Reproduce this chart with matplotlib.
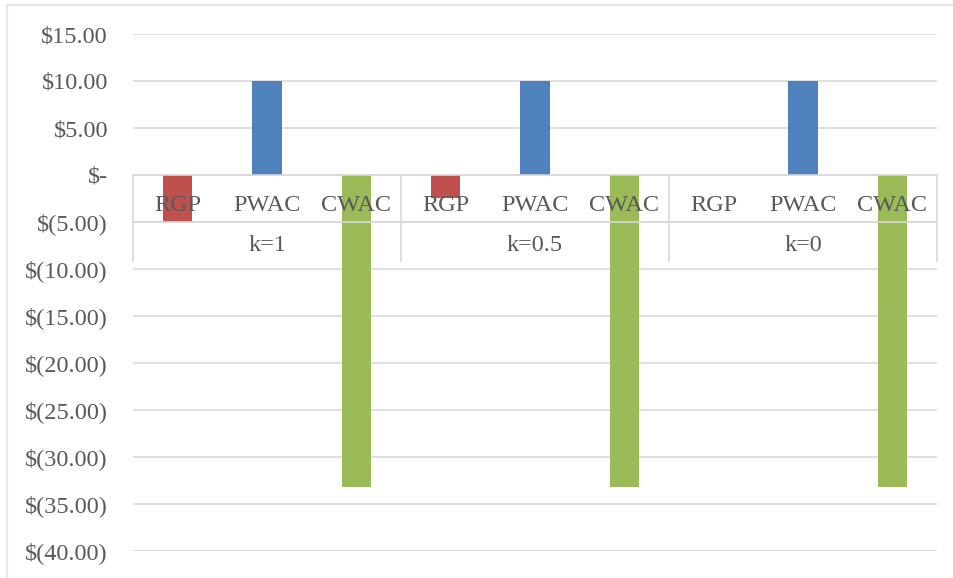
import matplotlib.pyplot as plt
from matplotlib.lines import Line2D

groups = ["k=1", "k=0.5", "k=0"]
measures = ["RGP", "PWAC", "CWAC"]
values = [
    [-5.0, 10.0, -33.2],
    [-2.4, 10.0, -33.2],
    [0.0, 10.0, -33.2],
]
bar_colors = ["#c0504d", "#4f81bd", "#9bbb59"]
y_ticks = [15, 10, 5, 0, -5, -10, -15, -20, -25, -30, -35, -40]


def money(v):
    if v == 0:
        return "$-"
    if v < 0:
        return f"$({-v:.2f})"
    return f"${v:.2f}"


plt.rcParams["font.family"] = ["Liberation Serif", "DejaVu Serif"]
text_color = "#595959"
line_color = "#d9d9d9"
fs = 17.5

fig = plt.figure(figsize=(9.54, 5.78), dpi=100)
ax = fig.add_axes([133 / 954, 1 - 551 / 578, (937 - 133) / 954, (551 - 34) / 578])

# bars
x = 0
for g, row in enumerate(values):
    for m, v in enumerate(row):
        ax.bar(x, v, width=0.33, color=bar_colors[m], zorder=2)
        x += 1

ax.set_xlim(-0.5, len(groups) * len(measures) - 0.5)
ax.set_ylim(-40, 15)
ax.set_yticks(y_ticks)
ax.set_yticklabels([money(v) for v in y_ticks])
ax.tick_params(axis="y", length=0, labelsize=fs, labelcolor=text_color, pad=18)
ax.set_xticks([])
ax.grid(axis="y", color=line_color, linewidth=1.2, zorder=0)
for s in ax.spines.values():
    s.set_visible(False)

# category table at y=0
n = len(groups) * len(measures)
ax.plot([-0.5, n - 0.5], [0, 0], color=line_color, lw=1.2, zorder=3, clip_on=False)
ax.plot([-0.5, n - 0.5], [-5, -5], color=line_color, lw=1.2, zorder=3, clip_on=False)
for d in range(len(groups) + 1):
    xd = d * len(measures) - 0.5
    ax.plot([xd, xd], [0, -9.15], color=line_color, lw=1.2, zorder=3, clip_on=False)

x = 0
for g, name in enumerate(groups):
    for m in measures:
        ax.text(x, -3.2, m, ha="center", va="center", fontsize=fs,
                color=text_color, zorder=4)
        x += 1
    ax.text(g * len(measures) + 1, -7.45, name, ha="center", va="center",
            fontsize=fs, color=text_color, zorder=4)

# chart area border (top and left only visible)
border = "#e8e7df"
fig.add_artist(Line2D([7 / 954, 1], [1 - 5 / 578, 1 - 5 / 578],
                      transform=fig.transFigure, color=border, lw=1.5))
fig.add_artist(Line2D([7 / 954, 7 / 954], [0, 1 - 5 / 578],
                      transform=fig.transFigure, color=border, lw=1.5))

fig.savefig("out.png", dpi=100)
